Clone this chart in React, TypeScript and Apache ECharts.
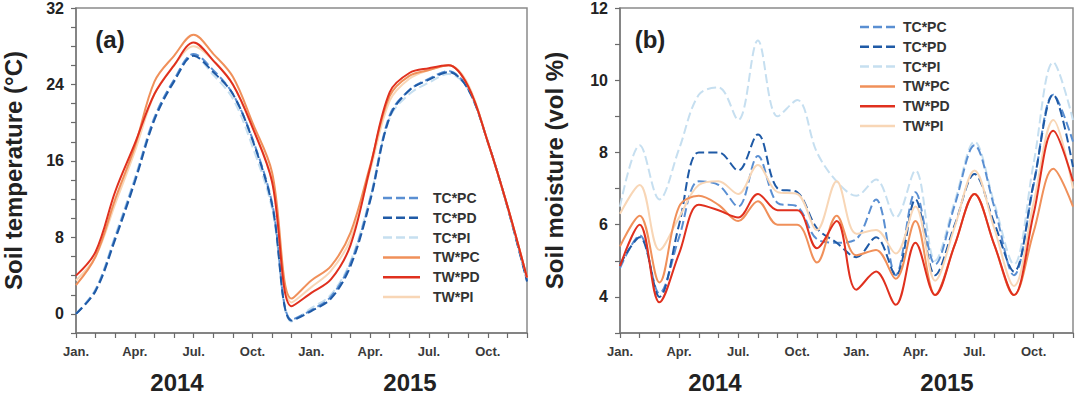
import React, { useEffect, useRef } from "react";
import * as echarts from "echarts";

// x positions: months since Jan. 2014
const months = [0, 1, 2, 3, 4, 5, 6, 7, 8, 9, 10, 11, 12, 13, 14, 15, 16, 17, 18, 19, 20, 21, 22, 23];
const monthTickLabels = ["Jan.", "Apr.", "Jul.", "Oct."];
const yearLabels = ["2014", "2015"];
const seriesNames = ["TC*PC", "TC*PD", "TC*PI", "TW*PC", "TW*PD", "TW*PI"];

// Soil temperature (°C)
const tempTCPC = [0, 2.5, 8, 14, 20.5, 24.5, 27.2, 25.5, 23, 18.3, 11.6, -0.6, 0.4, 1.8, 5.3, 12, 20.8, 23.4, 24.6, 25.4, 23.5, 18, 11.2, 3.5];
const tempTCPD = [0, 2.4, 7.8, 13.8, 20.3, 24.3, 27, 25.3, 23, 18.2, 11.4, -0.7, 0.3, 1.6, 5, 11.8, 20.6, 23.4, 24.5, 25.3, 23.5, 18, 11.2, 3.4];
const tempTCPI = [0, 2.6, 8.2, 14.2, 20.6, 24.4, 27, 25, 22.5, 17.5, 11, -0.8, 0.6, 2, 5.5, 12.2, 20.5, 23, 24.2, 25.1, 23.5, 18, 11.2, 3.5];
const tempTWPC = [3, 6, 12, 17.5, 24.3, 27, 29.2, 27.2, 24.8, 20, 14.8, 1.6, 3.5, 5, 8.5, 15.5, 22.8, 24.9, 25.5, 26, 23.8, 18, 11.3, 3.8];
const tempTWPD = [4, 6.5, 12.8, 17.8, 23, 26, 28.4, 26.5, 24, 19.5, 13.8, 0.8, 2.2, 3.6, 7.2, 15.3, 23.2, 25.2, 25.7, 26, 23.8, 18, 11.3, 3.8];
const tempTWPI = [3.5, 6, 11.5, 17, 23, 26, 28, 26.5, 24, 19.5, 14, 1.2, 2.8, 4.5, 7.8, 15, 22.3, 24.6, 25.5, 26, 24, 18, 11.3, 3.8];

// Soil moisture (vol %)
const moistTCPC = [4.8, 5.7, 4.1, 5.65, 7.2, 7.1, 6.5, 7.9, 6.6, 6.5, 5.6, 5.5, 5.6, 6.7, 4.6, 6.9, 4.9, 6.55, 8.2, 6.5, 4.6, 7.1, 9.6, 8.3];
const moistTCPD = [4.9, 5.65, 4.0, 6.0, 8.0, 8.0, 7.5, 8.5, 7.0, 6.9, 5.9, 5.5, 5.1, 5.65, 4.6, 6.7, 4.6, 6.0, 7.4, 6.05, 4.7, 7.15, 9.6, 7.6];
const moistTCPI = [6.5, 8.2, 6.7, 8.1, 9.6, 9.8, 8.9, 11.1, 9.0, 9.45, 8.0, 7.2, 6.8, 7.25, 6.2, 7.5, 5.0, 6.65, 8.3, 6.6, 4.9, 7.7, 10.5, 8.9];
const moistTWPC = [5.4, 6.25, 4.4, 6.5, 6.8, 6.55, 6.1, 6.65, 6.0, 6.0, 4.95, 6.25, 5.15, 5.3, 4.5, 6.1, 4.05, 5.45, 6.85, 5.45, 4.05, 5.8, 7.55, 6.5];
const moistTWPD = [4.85, 6.0, 3.85, 5.2, 6.55, 6.4, 6.2, 6.85, 6.4, 6.4, 5.35, 6.1, 4.2, 4.7, 3.78, 5.5, 4.05, 5.45, 6.85, 5.45, 4.05, 6.3, 8.6, 7.2];
const moistTWPI = [6.3, 7.1, 5.3, 6.2, 7.1, 7.2, 6.85, 7.65, 6.9, 6.85, 5.85, 7.2, 5.75, 5.85, 5.2, 6.5, 4.45, 5.95, 7.5, 5.9, 4.3, 6.6, 8.9, 7.0];

const tempData = [tempTCPC, tempTCPD, tempTCPI, tempTWPC, tempTWPD, tempTWPI];
const moistData = [moistTCPC, moistTCPD, moistTCPI, moistTWPC, moistTWPD, moistTWPI];

const colors = ["#5a8fd2", "#1f5aa6", "#c6dff0", "#f0905a", "#e0301e", "#f8d6b6"];
const dashed = [true, true, true, false, false, false];
const drawOrder = [2, 0, 1, 5, 3, 4];

const FONT = "'Liberation Sans', Arial, Helvetica, sans-serif";

function makeXAxis(gridIndex: number) {
  return {
    type: "value",
    gridIndex,
    min: 0,
    max: 23,
    interval: 1,
    axisLine: { show: true, onZero: false, lineStyle: { color: "#7a7a7a", width: 1.5 } },
    axisTick: { show: true, length: 5, lineStyle: { color: "#6a6a6a", width: 1.2 } },
    splitLine: { show: false },
    axisLabel: {
      margin: 12,
      fontFamily: FONT,
      fontWeight: "bold",
      fontSize: 13,
      color: "#3a3a3a",
      formatter: (v: number) => (v % 3 === 0 && v < 23 ? monthTickLabels[(v / 3) % 4] : ""),
    },
  };
}

function makeYAxis(gridIndex: number, min: number, max: number, interval: number, labelEvery: number, name: string, nameGap: number) {
  return {
    type: "value",
    gridIndex,
    min,
    max,
    interval,
    name,
    nameLocation: "middle",
    nameGap,
    nameTextStyle: { fontFamily: FONT, fontWeight: "bold", fontSize: 24, color: "#222" },
    axisLine: { show: true, onZero: false, lineStyle: { color: "#7a7a7a", width: 1.5 } },
    axisTick: { show: true, length: 5, lineStyle: { color: "#6a6a6a", width: 1.2 } },
    splitLine: { show: false },
    axisLabel: {
      margin: 12,
      fontFamily: FONT,
      fontWeight: "bold",
      fontSize: 16,
      color: "#222",
      formatter: (v: number) => (Math.abs(v % labelEvery) < 1e-9 ? String(v) : ""),
    },
  };
}

function makeSeries(dataSets: number[][], axisIndex: number) {
  return drawOrder.map((i) => ({
    name: seriesNames[i],
    type: "line",
    xAxisIndex: axisIndex,
    yAxisIndex: axisIndex,
    data: months.map((m, k) => [m, dataSets[i][k]]),
    smooth: 0.35,
    symbol: "none",
    showSymbol: false,
    lineStyle: { color: colors[i], width: 2, type: dashed[i] ? [9, 4] : "solid" },
    itemStyle: { color: colors[i] },
    z: 2,
  }));
}

function legendEls(lineX: number, lineW: number, textX: number, firstY: number, step: number) {
  const els: any[] = [];
  seriesNames.forEach((name, i) => {
    const y = firstY + i * step;
    els.push({
      type: "line",
      shape: { x1: lineX, y1: y, x2: lineX + lineW, y2: y },
      style: { stroke: colors[i], lineWidth: 2.5, lineDash: dashed[i] ? [9, 4] : null },
    });
    els.push({
      type: "text",
      x: textX,
      y,
      style: {
        text: name,
        fontFamily: FONT,
        fontWeight: "bold",
        fontSize: 14,
        fill: "#333",
        textAlign: "left",
        textVerticalAlign: "middle",
      },
    });
  });
  return els;
}

function textEl(text: string, x: number, y: number, size: number) {
  return {
    type: "text",
    x,
    y,
    style: {
      text,
      fontFamily: FONT,
      fontWeight: "bold",
      fontSize: size,
      fill: "#222",
      textAlign: "center",
      textVerticalAlign: "middle",
    },
  };
}

export default function App() {
  const ref = useRef<HTMLDivElement>(null);
  useEffect(() => {
    if (!ref.current) return;
    const chart = echarts.init(ref.current, undefined, { renderer: "svg" });
    chart.setOption({
      animation: false,
      backgroundColor: "#ffffff",
      grid: [
        { left: 73, top: 5, width: 454, height: 328, show: true, borderColor: "#8a8a8a", borderWidth: 1.5, backgroundColor: "transparent" },
        { left: 620, top: 5, width: 453, height: 328, show: true, borderColor: "#8a8a8a", borderWidth: 1.5, backgroundColor: "transparent" },
      ],
      xAxis: [makeXAxis(0), makeXAxis(1)],
      yAxis: [
        makeYAxis(0, -2, 32, 2, 8, "Soil temperature (°C)", 51),
        makeYAxis(1, 3, 12, 1, 2, "Soil moisture (vol %)", 54),
      ],
      series: [...makeSeries(tempData, 0), ...makeSeries(moistData, 1)],
      graphic: [
        ...legendEls(383, 37, 433, 198, 19.8),
        ...legendEls(860, 35, 903, 27, 19.8),
        textEl("(a)", 110, 39, 24),
        textEl("(b)", 650, 39, 24),
        textEl(yearLabels[0], 177, 382, 24),
        textEl(yearLabels[1], 410, 382, 24),
        textEl(yearLabels[0], 715, 382, 24),
        textEl(yearLabels[1], 947, 382, 24),
      ],
    });
    return () => chart.dispose();
  }, []);
  return (
    <div
      ref={ref}
      style={{ position: "fixed", left: 0, top: 0, width: "1080px", height: "407px", background: "#fff" }}
    />
  );
}
